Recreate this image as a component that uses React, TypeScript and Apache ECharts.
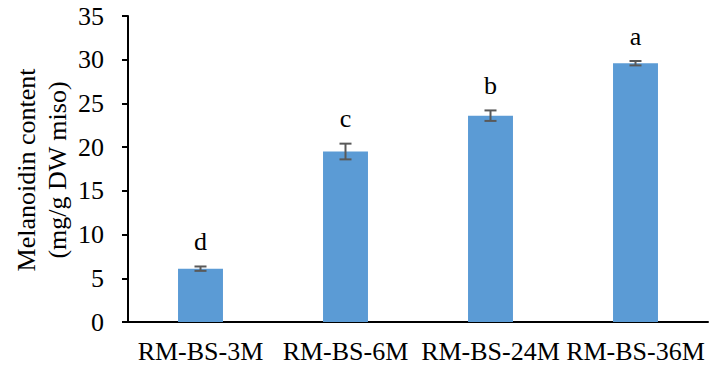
import React, { useEffect, useRef } from "react";
import * as echarts from "echarts";

const categories = ["RM-BS-3M", "RM-BS-6M", "RM-BS-24M", "RM-BS-36M"];
const values = [6.1, 19.5, 23.6, 29.6];
const errors = [0.25, 0.9, 0.6, 0.25];
const letters = ["d", "c", "b", "a"];
const yTicks = { min: 0, max: 35, interval: 5 };
const yTitle = ["Melanoidin content", "(mg/g DW miso)"];

const FONT = "'Liberation Serif', 'Times New Roman', serif";

export default function App() {
  const ref = useRef<HTMLDivElement>(null);
  useEffect(() => {
    document.body.style.margin = "0";
    if (!ref.current) return;
    const chart = echarts.init(ref.current, null, { renderer: "svg" });
    chart.setOption({
      animation: false,
      backgroundColor: "#ffffff",
      grid: { left: 128, right: 2, top: 16, bottom: 52, containLabel: false },
      graphic: [
        {
          type: "text",
          x: 42,
          y: 170,
          rotation: Math.PI / 2,
          style: {
            text: yTitle.join("\n"),
            font: `26px ${FONT}`,
            fill: "#000",
            align: "center",
            verticalAlign: "middle",
            lineHeight: 31,
          },
        },
      ],
      xAxis: {
        type: "category",
        data: categories,
        axisLine: { lineStyle: { color: "#000", width: 2 } },
        axisTick: { inside: true, length: 6, lineStyle: { color: "#000", width: 2 } },
        axisLabel: { color: "#000", fontFamily: FONT, fontSize: 26, margin: 16, interval: 0 },
      },
      yAxis: {
        type: "value",
        min: yTicks.min,
        max: yTicks.max,
        interval: yTicks.interval,
        axisLine: { show: true, lineStyle: { color: "#000", width: 2 } },
        axisTick: { show: true, inside: false, length: 6, lineStyle: { color: "#000", width: 2 } },
        axisLabel: { color: "#000", fontFamily: FONT, fontSize: 26, margin: 24 },
        splitLine: { show: false },
      },
      series: [
        {
          type: "bar",
          data: values,
          barWidth: "31%",
          itemStyle: { color: "#5B9BD5" },
        },
        {
          type: "custom",
          data: values.map((v, i) => [i, v, errors[i]]),
          z: 10,
          renderItem: (params: any, api: any) => {
            const i = api.value(0);
            const v = api.value(1);
            const e = api.value(2);
            const top = api.coord([i, v + e]);
            const bot = api.coord([i, v - e]);
            const cap = 6;
            const style = { stroke: "#595959", lineWidth: 2 };
            return {
              type: "group",
              children: [
                { type: "line", shape: { x1: top[0], y1: top[1], x2: bot[0], y2: bot[1] }, style },
                { type: "line", shape: { x1: top[0] - cap, y1: top[1], x2: top[0] + cap, y2: top[1] }, style },
                { type: "line", shape: { x1: bot[0] - cap, y1: bot[1], x2: bot[0] + cap, y2: bot[1] }, style },
                {
                  type: "text",
                  x: top[0],
                  y: top[1] - 12,
                  style: {
                    text: letters[params.dataIndex],
                    font: `26px ${FONT}`,
                    fill: "#000",
                    align: "center",
                    verticalAlign: "bottom",
                  },
                },
              ],
            };
          },
        },
      ],
    });
    return () => chart.dispose();
  }, []);
  return <div ref={ref} style={{ width: 710, height: 374 }} />;
}
